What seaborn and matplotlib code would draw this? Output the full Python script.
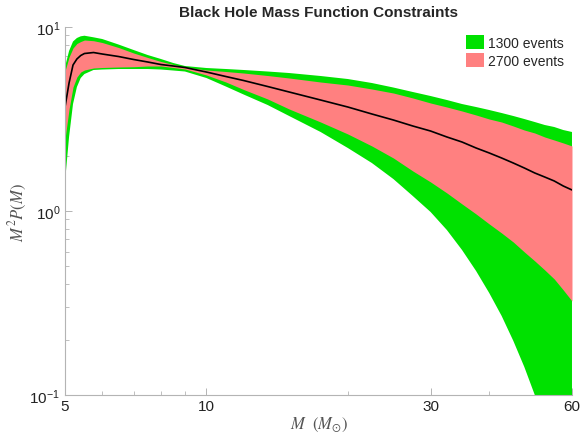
import numpy as np
import pandas as pd
import matplotlib
matplotlib.use("Agg")
import matplotlib.pyplot as plt
import seaborn as sns
from matplotlib.patches import Patch
from matplotlib.ticker import FixedLocator, NullFormatter, FixedFormatter

# ---- data ----
mass = [5, 5.1, 5.2, 5.3, 5.4, 5.5, 5.75, 6, 6.5, 7, 7.5, 8, 8.5, 9, 10, 11, 12, 13.5,
        15, 17.5, 20, 22.5, 25, 27.5, 30, 32.5, 35, 37.5, 40, 42.5, 45, 47.5, 50, 52.5,
        55, 57.5, 60]
median = [3.674, 4.962, 6.216, 6.702, 7.000, 7.178, 7.267, 7.133, 6.913, 6.659, 6.454,
          6.255, 6.138, 6.025, 5.693, 5.382, 5.119, 4.749,
          4.434, 4.011, 3.674, 3.367, 3.123, 2.897, 2.721, 2.525, 2.371, 2.200, 2.067,
          1.941, 1.823, 1.713, 1.609, 1.530, 1.456, 1.367, 1.301]
green_hi = [6.062, 7.406, 8.341, 8.714, 8.902, 8.968, 8.791, 8.606, 8.033, 7.499, 7.043,
            6.702, 6.374, 6.138, 5.987, 5.913, 5.840, 5.730,
            5.623, 5.417, 5.216, 4.962, 4.690, 4.434, 4.217, 4.011, 3.815, 3.674, 3.539,
            3.409, 3.284, 3.162, 3.045, 2.934, 2.861, 2.755, 2.688]
green_lo = [1.438, 2.525, 3.815, 4.719, 5.283, 5.553, 5.840, 5.875, 5.913, 5.913, 5.913,
            5.875, 5.802, 5.730, 5.283, 4.749, 4.298, 3.768,
            3.284, 2.688, 2.200, 1.823, 1.492, 1.206, 0.988, 0.788, 0.614, 0.472, 0.358,
            0.269, 0.197, 0.142, 0.100, 0.0670, 0.0449, 0.0290, 0.0187]
pink_hi = [5.766, 6.870, 7.689, 8.134, 8.341, 8.497, 8.423, 8.237, 7.737, 7.222, 6.826,
           6.494, 6.255, 6.062, 5.840, 5.730, 5.623, 5.449,
           5.283, 5.024, 4.839, 4.603, 4.378, 4.114, 3.864, 3.674, 3.496, 3.325, 3.162,
           3.045, 2.897, 2.755, 2.654, 2.525, 2.431, 2.343, 2.256]
pink_lo = [2.462, 3.584, 4.719, 5.349, 5.693, 5.840, 5.987, 6.025, 6.062, 6.084, 6.138,
           6.138, 6.025, 5.913, 5.484, 5.024, 4.574, 4.062,
           3.584, 3.045, 2.621, 2.256, 1.941, 1.650, 1.438, 1.253, 1.092, 0.963, 0.850,
           0.759, 0.678, 0.599, 0.535, 0.478, 0.427, 0.372, 0.324]
labels = ["1300 events", "2700 events"]
xticks = [5, 10, 30, 60]
xminor = [6, 7, 8, 9, 20, 40, 50]

df = pd.DataFrame({"M": mass, "median": median})

sns.set_theme(style="ticks")
plt.rcParams["font.family"] = ["Liberation Sans", "DejaVu Sans"]
plt.rcParams["mathtext.fontset"] = "stix"

GREEN = "#00e100"
PINK = "#ff8080"

fig = plt.figure(figsize=(5.82, 4.35), dpi=100)
ax = fig.add_axes([0.1117, 0.0897, 0.8711, 0.8459])

ax.fill_between(mass, green_lo, green_hi, color=GREEN, linewidth=0)
ax.fill_between(mass, pink_lo, pink_hi, color=PINK, linewidth=0)
sns.lineplot(data=df, x="M", y="median", ax=ax, color="black", linewidth=1.2)

ax.set_xscale("log")
ax.set_yscale("log")
ax.set_xlim(5, 60)
ax.set_ylim(0.1, 10)

ax.xaxis.set_major_locator(FixedLocator(xticks))
ax.xaxis.set_major_formatter(FixedFormatter([str(t) for t in xticks]))
ax.xaxis.set_minor_locator(FixedLocator(xminor))
ax.xaxis.set_minor_formatter(NullFormatter())

for s in ["top", "right"]:
    ax.spines[s].set_visible(False)
for s in ["left", "bottom"]:
    ax.spines[s].set_color("#b4b4b4")
    ax.spines[s].set_linewidth(0.8)

ax.tick_params(which="both", direction="in", color="#b4b4b4", labelsize=11,
               labelcolor="#222222")
ax.tick_params(which="major", length=5, width=0.7)
ax.tick_params(which="minor", length=3, width=0.6)
ax.tick_params(axis="x", pad=3)

ax.set_xlabel(r"$M\ \ (M_{\odot})$", fontsize=12, color="#555555", labelpad=1)
ax.set_ylabel(r"$M^2 P(M)$", fontsize=12, color="#555555", labelpad=0)
ax.set_title("Black Hole Mass Function Constraints", fontsize=11, fontweight="bold",
             pad=8)

handles = [Patch(facecolor=GREEN, edgecolor="none"), Patch(facecolor=PINK, edgecolor="none")]
ax.legend(handles, labels, loc="upper right", bbox_to_anchor=(1.0, 1.0), frameon=False,
          fontsize=10, handlelength=1.3, handleheight=1.1, handletextpad=0.25,
          labelspacing=0.25, borderaxespad=0.2)

fig.savefig("out.png", dpi=100)
